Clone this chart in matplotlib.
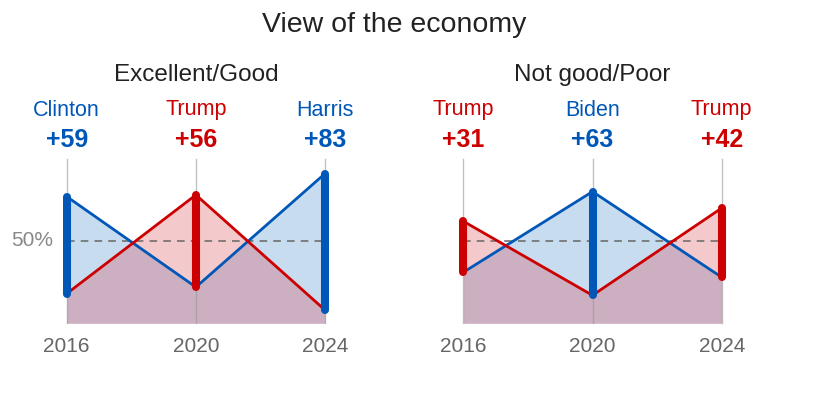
import numpy as np
import matplotlib
matplotlib.use("Agg")
import matplotlib.pyplot as plt

plt.rcParams["font.family"] = ["Liberation Sans", "DejaVu Sans"]

years = [2016, 2020, 2024]
panels = ["Excellent/Good", "Not good/Poor"]
# vote share (%) by view of the economy
dem_good = [77, 22, 91]
rep_good = [18, 78, 8]
dem_poor = [31, 80, 28]
rep_poor = [62, 17, 70]
winners_good = ["Clinton", "Trump", "Harris"]
winners_poor = ["Trump", "Biden", "Trump"]
margins_good = ["+59", "+56", "+83"]
margins_poor = ["+31", "+63", "+42"]

BLUE = "#0057b8"
RED = "#cc0000"
BLUE_FILL = "#c8dcef"
RED_FILL = "#f4c9cb"
MIX_FILL = "#ccafc0"

W, H = 834, 409
fig = plt.figure(figsize=(W / 100, H / 100), dpi=100)

fig.text(394 / W, 1 - 25 / H, "View of the economy", ha="center", va="center",
         fontsize=20.5, color="#222222")


def draw_panel(left_px, title, dem, rep, names, margins):
    ax = fig.add_axes([left_px / W, (H - 323.3) / H, 258.4 / W, 164.6 / H])
    ax.set_xlim(2016, 2024)
    ax.set_ylim(0, 100)
    ax.axis("off")

    # dense x so fills can split at crossing points
    xs = np.linspace(2016, 2024, 801)
    d = np.interp(xs, years, dem)
    r = np.interp(xs, years, rep)
    lo = np.minimum(d, r)
    ax.fill_between(xs, 0, lo, color=MIX_FILL, lw=0, zorder=1)
    ax.fill_between(xs, lo, d, where=d >= r, color=BLUE_FILL, lw=0, zorder=1)
    ax.fill_between(xs, lo, r, where=r >= d, color=RED_FILL, lw=0, zorder=1)

    for x in years:
        ax.plot([x, x], [0, 100], color="#999999", lw=1.0, alpha=0.6,
                zorder=2, clip_on=False)
    ax.plot([2016, 2024], [50, 50], color="#666666", lw=1.1,
            dashes=(5, 4), zorder=2)

    ax.plot(years, dem, color=BLUE, lw=2.0, zorder=3, clip_on=False)
    ax.plot(years, rep, color=RED, lw=2.0, zorder=3, clip_on=False)

    for i, x in enumerate(years):
        win_blue = dem[i] > rep[i]
        c = BLUE if win_blue else RED
        ax.plot([x, x], [rep[i], dem[i]], color=c, lw=5.8,
                solid_capstyle="round", zorder=4, clip_on=False)
        ax.text(x, (323.3 - 110) / 164.6, names[i], ha="center",
                va="center", fontsize=15.5, color=c,
                transform=ax.get_xaxis_transform(), clip_on=False)
        ax.text(x, (323.3 - 140) / 164.6, margins[i], ha="center",
                va="center", fontsize=18, fontweight="bold", color=c,
                transform=ax.get_xaxis_transform(), clip_on=False)
        ax.text(x, -(346 - 323.3) / 164.6, str(x), ha="center", va="center",
                fontsize=15, color="#666666",
                transform=ax.get_xaxis_transform(), clip_on=False)

    ax.text(0.5, (323.3 - 75) / 164.6, title, ha="center", va="center",
            fontsize=17.5, color="#222222", transform=ax.transAxes,
            clip_on=False)
    return ax


ax1 = draw_panel(66.7, panels[0], dem_good, rep_good, winners_good, margins_good)
ax1.text(-14 / 258.4, 50, "50%", ha="right", va="center", fontsize=15,
         color="#888888", transform=ax1.get_yaxis_transform(), clip_on=False)
draw_panel(463.3, panels[1], dem_poor, rep_poor, winners_poor, margins_poor)

fig.savefig("out.png", dpi=100)
